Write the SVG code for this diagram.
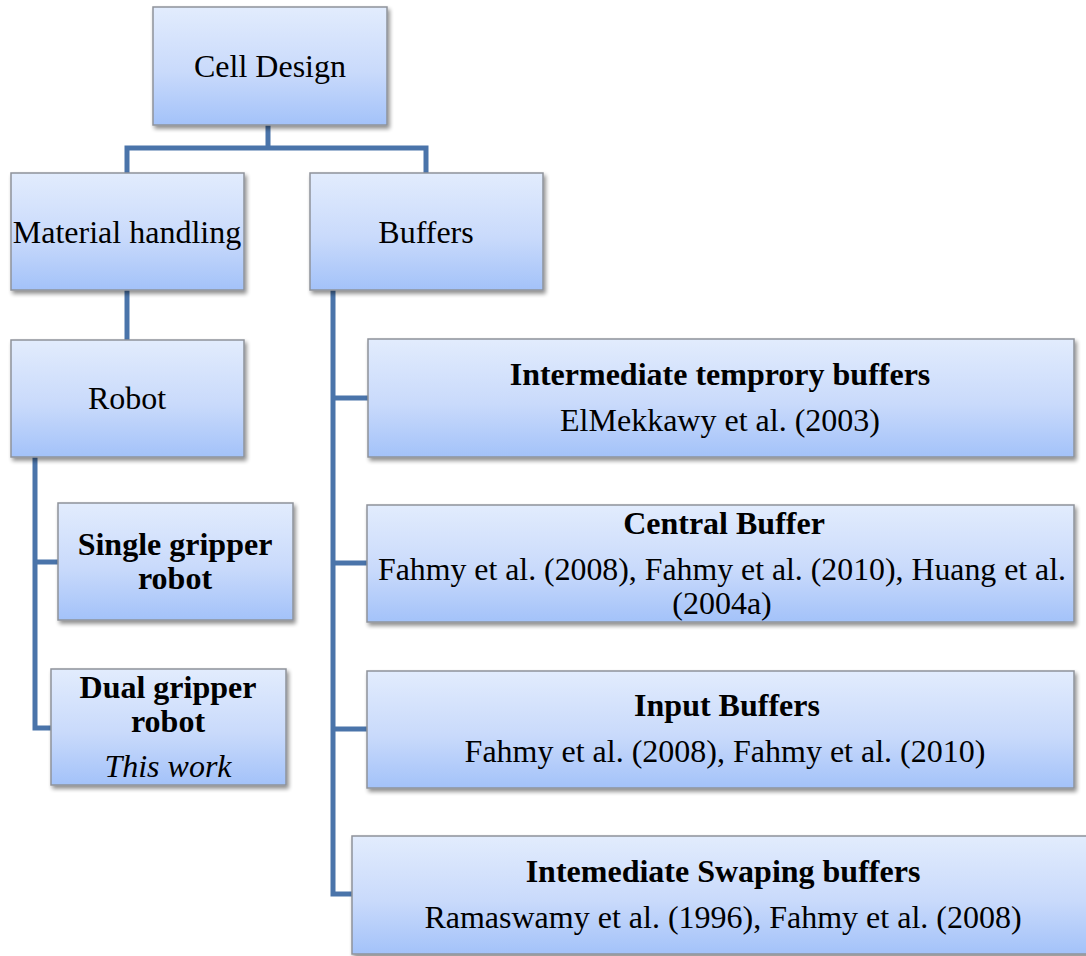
<svg xmlns="http://www.w3.org/2000/svg" width="1086" height="956" viewBox="0 0 1086 956">
  <defs>
    <linearGradient id="boxFill" x1="0" y1="0" x2="0" y2="1">
      <stop offset="0" stop-color="#E2ECFD"/>
      <stop offset="0.55" stop-color="#C9DAFB"/>
      <stop offset="1" stop-color="#A3C2F9"/>
    </linearGradient>
    <filter id="shadow" x="-5%" y="-5%" width="115%" height="125%">
      <feGaussianBlur in="SourceAlpha" stdDeviation="2"/>
      <feOffset dx="2" dy="3" result="b"/>
      <feComponentTransfer><feFuncA type="linear" slope="0.45"/></feComponentTransfer>
      <feMerge><feMergeNode/><feMergeNode in="SourceGraphic"/></feMerge>
    </filter>
  </defs>
  <style>
    .box { fill: url(#boxFill); stroke: #8E939A; stroke-width: 1.5; filter: url(#shadow); }
    .link { fill: none; stroke: #4A74AA; stroke-width: 5; stroke-linejoin: miter; }
    text { font-family: "Liberation Serif", "Times New Roman", serif; fill: #000; text-anchor: middle; font-size: 32px; }
    .b { font-weight: bold; }
    .i { font-style: italic; }
  </style>

  <g id="connectors">
    <path class="link" d="M268,125 V148 M127,173 V148 H426 V173"/>
    <path class="link" d="M127,290 V340"/>
    <path class="link" d="M35,457 V728 H52 M35,562 H58"/>
    <path class="link" d="M333,290 V894 H352 M333,398 H368 M333,563 H367 M333,729 H367"/>
  </g>

  <g id="cell-design">
    <rect class="box" x="153" y="7" width="234" height="118"/>
    <text x="270" y="77">Cell Design</text>
  </g>
  <g id="material-handling">
    <rect class="box" x="11" y="173" width="233" height="117"/>
    <text x="127" y="243">Material handling</text>
  </g>
  <g id="buffers">
    <rect class="box" x="310" y="173" width="233" height="117"/>
    <text x="426" y="243">Buffers</text>
  </g>
  <g id="robot">
    <rect class="box" x="11" y="340" width="233" height="117"/>
    <text x="127" y="409">Robot</text>
  </g>
  <g id="single-gripper">
    <rect class="box" x="58" y="503" width="235" height="117"/>
    <text class="b" x="175" y="555">Single gripper</text>
    <text class="b" x="175" y="589">robot</text>
  </g>
  <g id="dual-gripper">
    <rect class="box" x="51" y="669" width="235" height="116"/>
    <text class="b" x="168" y="698">Dual gripper</text>
    <text class="b" x="168" y="732">robot</text>
    <text class="i" x="168" y="777">This work</text>
  </g>
  <g id="intermediate-temporary">
    <rect class="box" x="368" y="339" width="706" height="118"/>
    <text class="b" x="720" y="385">Intermediate temprory buffers</text>
    <text x="720" y="431">ElMekkawy et al. (2003)</text>
  </g>
  <g id="central-buffer">
    <rect class="box" x="367" y="505" width="707" height="117"/>
    <text class="b" x="724" y="534">Central Buffer</text>
    <text x="722" y="580" textLength="688" lengthAdjust="spacingAndGlyphs">Fahmy et al. (2008), Fahmy et al. (2010), Huang et al.</text>
    <text x="722" y="614">(2004a)</text>
  </g>
  <g id="input-buffers">
    <rect class="box" x="367" y="671" width="707" height="117"/>
    <text class="b" x="727" y="716">Input Buffers</text>
    <text x="725" y="762">Fahmy et al. (2008), Fahmy et al. (2010)</text>
  </g>
  <g id="swapping-buffers">
    <rect class="box" x="352" y="836" width="740" height="118"/>
    <text class="b" x="723" y="882">Intemediate Swaping buffers</text>
    <text x="723" y="928">Ramaswamy et al. (1996), Fahmy et al. (2008)</text>
  </g>
</svg>
